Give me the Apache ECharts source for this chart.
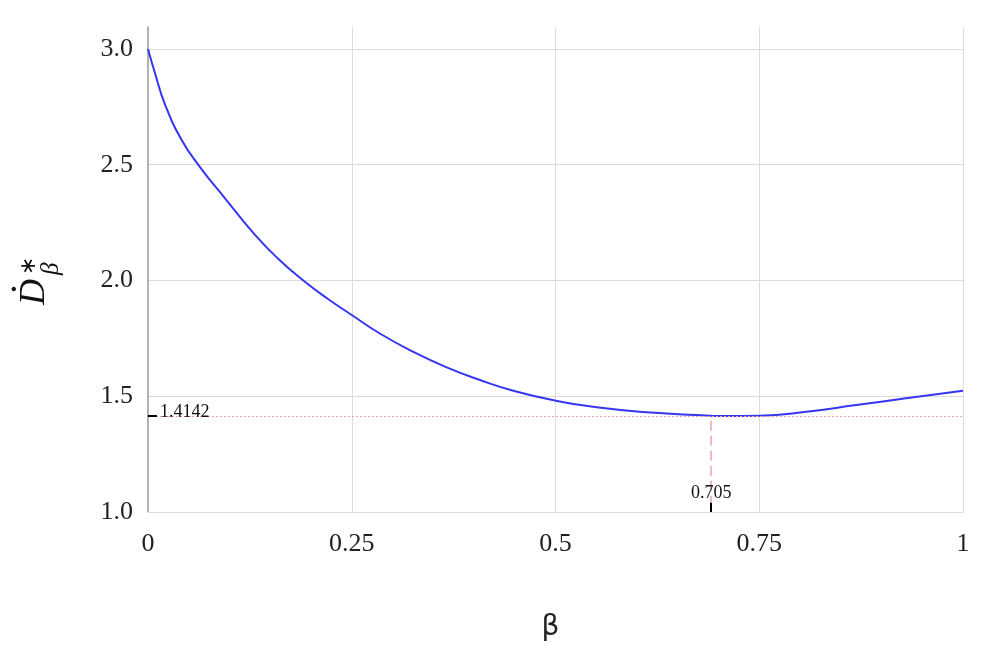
<!DOCTYPE html>
<html>
<head>
<meta charset="utf-8">
<script src="https://cdn.jsdelivr.net/npm/echarts@6/dist/echarts.min.js"></script>
<style>
  html, body { margin: 0; padding: 0; background: #fff; }
  #chart { width: 997px; height: 656px; }
</style>
</head>
<body>
<div id="chart"></div>
<script>
  // curve: beta vs D*_beta
  const betaValues = [0, 0.0086, 0.0209, 0.0413, 0.0638, 0.0945, 0.1313, 0.16, 0.1906, 0.22, 0.25, 0.285, 0.3255, 0.3665, 0.4074, 0.4482, 0.5, 0.5505, 0.612, 0.673, 0.705, 0.75, 0.808, 0.869, 0.93, 1.0];
  const dValues = [3.0, 2.895, 2.76, 2.607, 2.49, 2.355, 2.197, 2.093, 2.0, 1.922, 1.851, 1.77, 1.692, 1.625, 1.57, 1.524, 1.481, 1.452, 1.431, 1.419, 1.4142, 1.416, 1.433, 1.462, 1.491, 1.524];

  // annotation of the minimum
  const minValue = 1.4142;
  const minLabel = '1.4142';
  const minBeta = 0.691;
  const minBetaLabel = '0.705';

  const xTicks = [0, 0.25, 0.5, 0.75, 1];
  const yMin = 1.0, yMax = 3.095, yStep = 0.5;

  const serif = '"Liberation Serif", "Times New Roman", serif';
  const pink = '#f4a3a3';

  const chart = echarts.init(document.getElementById('chart'));

  chart.setOption({
    animation: false,
    grid: { left: 148, right: 34, top: 27, bottom: 144 },
    xAxis: {
      type: 'value',
      min: 0,
      max: 1,
      interval: 0.25,
      name: 'β',
      nameLocation: 'middle',
      nameGap: 102,
      nameTextStyle: { fontFamily: '"DejaVu Sans", sans-serif', fontSize: 28, color: '#222', padding: [0, 10, 0, 0] },
      axisLine: { show: true, lineStyle: { color: '#dcdcdc', width: 1 } },
      axisTick: { show: false },
      axisLabel: {
        margin: 19,
        fontFamily: serif,
        fontSize: 26,
        color: '#222',
        formatter: v => (xTicks.indexOf(v) >= 0 ? String(v) : '')
      },
      splitLine: { show: true, showMinLine: false, lineStyle: { color: '#dcdcdc', width: 1 } }
    },
    yAxis: {
      type: 'value',
      min: yMin,
      max: yMax,
      interval: yStep,
      axisLine: { show: true, lineStyle: { color: '#999', width: 1.5 } },
      axisTick: { show: false },
      axisLabel: {
        margin: 15,
        fontFamily: serif,
        fontSize: 26,
        color: '#222',
        showMaxLabel: false,
        formatter: v => v.toFixed(1)
      },
      splitLine: { show: true, showMaxLine: false, lineStyle: { color: '#dcdcdc', width: 1 } }
    },
    graphic: [{
      type: 'group',
      x: 47,
      y: 305,
      rotation: Math.PI / 2,
      children: [
        { type: 'text', x: 0, y: -12, style: { text: 'D', font: 'italic 36px ' + serif, fill: '#111', textVerticalAlign: 'middle', verticalAlign: 'middle' } },
        { type: 'text', x: 16, y: -23, style: { text: '˙', font: 'bold 30px ' + serif, fill: '#111', textAlign: 'center', align: 'center', textVerticalAlign: 'middle', verticalAlign: 'middle' } },
        { type: 'text', x: 30, y: -18, style: { text: '∗', font: '22px ' + serif, fill: '#111', textVerticalAlign: 'middle', verticalAlign: 'middle' } },
        { type: 'text', x: 30, y: 4, style: { text: 'β', font: 'italic 25px ' + serif, fill: '#111', textVerticalAlign: 'middle', verticalAlign: 'middle' } }
      ]
    }],
    series: [{
      type: 'line',
      data: betaValues.map((b, i) => [b, dValues[i]]),
      smooth: 0.5,
      symbol: 'none',
      lineStyle: { color: '#3636f2', width: 2 },
      z: 3,
      markLine: {
        silent: true,
        symbol: 'none',
        label: { show: false },
        data: [
          [{ coord: [0, minValue], lineStyle: { color: pink, type: [2, 2], width: 1 } }, { coord: [1, minValue] }],
          [{ coord: [minBeta, minValue - 0.02], lineStyle: { color: pink, type: [10, 5], width: 1.5 } }, { coord: [minBeta, yMin] }],
          [{ coord: [0, minValue], lineStyle: { color: '#000', type: 'solid', width: 2 } }, { coord: [0.011, minValue] }],
          [{ coord: [minBeta, yMin], lineStyle: { color: '#000', type: 'solid', width: 2 } }, { coord: [minBeta, yMin + 0.04] }]
        ]
      },
      markPoint: {
        silent: true,
        symbol: 'circle',
        symbolSize: 0,
        data: [
          { coord: [0, minValue], label: { show: true, formatter: minLabel, position: 'right', offset: [7, -4], fontFamily: serif, fontSize: 18, color: '#111' } },
          { coord: [minBeta, yMin], label: { show: true, formatter: minBetaLabel, position: 'top', distance: 10, fontFamily: serif, fontSize: 18, color: '#111' } }
        ]
      }
    }]
  });
</script>
</body>
</html>
